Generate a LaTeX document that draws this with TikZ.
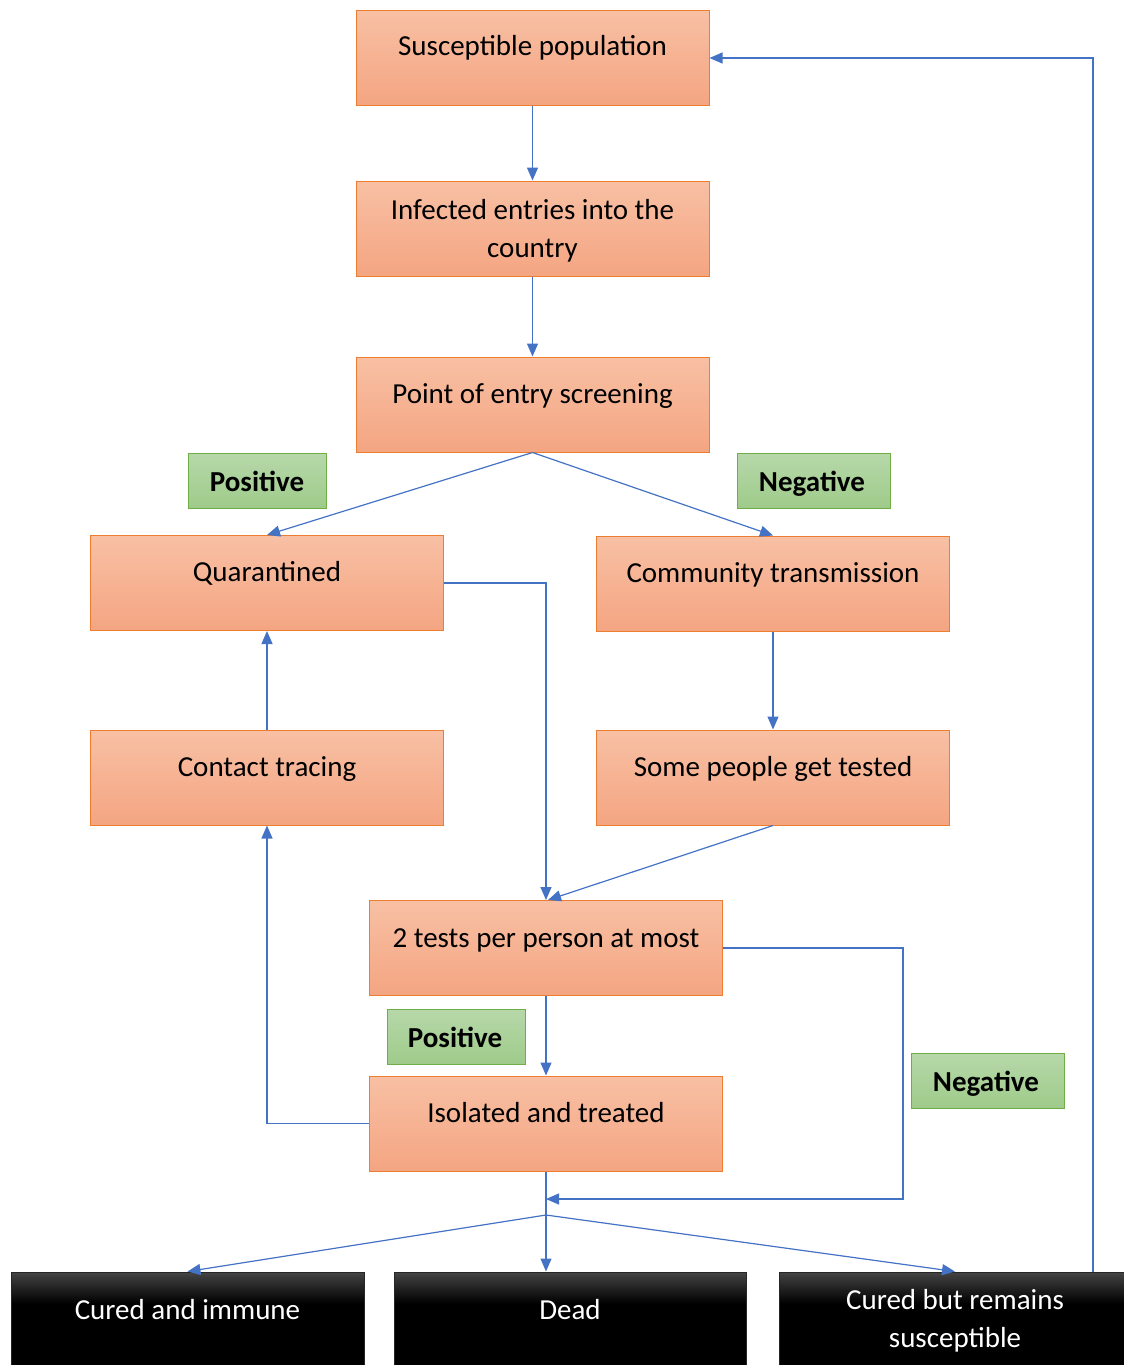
\documentclass[tikz,border=0pt]{standalone}
\usepackage{fontspec}
\setmainfont{Carlito}
\usetikzlibrary{arrows.meta}
\definecolor{otop}{HTML}{F8C0A4}
\definecolor{obot}{HTML}{F4A582}
\definecolor{obord}{HTML}{ED7D31}
\definecolor{gtop}{HTML}{B7D8AA}
\definecolor{gbot}{HTML}{9ECB8A}
\definecolor{gbord}{HTML}{70AD47}
\definecolor{ablue}{HTML}{4472C4}
\definecolor{btop}{HTML}{444444}
\pgfdeclareverticalshading{blackfade}{100bp}{color(0bp)=(black); color(25bp)=(black); color(58bp)=(black); color(75bp)=(btop); color(100bp)=(btop)}
\tikzset{
  obox/.style={draw=obord, line width=1pt, top color=otop, bottom color=obot, minimum width=353pt, minimum height=95pt, inner sep=0pt},
  gbox/.style={draw=gbord, line width=1pt, top color=gtop, bottom color=gbot, minimum height=55pt, inner sep=0pt},
  bbox/.style={draw=black!85, line width=1pt, shading=blackfade, minimum height=93pt, inner sep=0pt},
  txt/.style={anchor=base, font=\fontsize{29}{38}\selectfont, align=center, inner sep=0pt},
  btxt/.style={txt, font=\fontsize{29}{38}\selectfont\bfseries},
  wtxt/.style={txt, text=white},
  conn/.style={draw=ablue, line width=1.2pt, -{Triangle[length=13pt,width=11pt]}},
  plain/.style={draw=ablue, line width=1.2pt},
}
\begin{document}
\begin{tikzpicture}[x=1pt,y=-1pt]
\useasboundingbox (0,0) rectangle (1124,1365);
% boxes
\node[obox] (sus) at (532.5,57.5) {};
\node[obox] (inf) at (532.5,228.5) {};
\node[obox] (poe) at (532.5,404.5) {};
\node[obox] (qua) at (267,583) {};
\node[obox] (com) at (773,583.5) {};
\node[obox] (con) at (267,777.5) {};
\node[obox] (som) at (773,777.5) {};
\node[obox] (tst) at (546,948) {};
\node[obox] (iso) at (546,1123.5) {};
\node[gbox, minimum width=138pt] (pos1) at (257,480.5) {};
\node[gbox, minimum width=153pt] (neg1) at (813.5,480.5) {};
\node[gbox, minimum width=138pt] (pos2) at (456,1036.5) {};
\node[gbox, minimum width=153pt] (neg2) at (987.5,1080.5) {};
\node[bbox, minimum width=353pt] (imm) at (187.5,1318.5) {};
\node[bbox, minimum width=352pt] (dead) at (570,1318.5) {};
\node[bbox, minimum width=346pt] (cbs) at (952,1318.5) {};
% texts
\node[txt] (tsus) at (532.5,55) {Susceptible population};
\node[txt] (tinf) at (532.5,257) {Infected entries into the\\country};
\node[txt] (tpoe) at (532.5,403) {Point of entry screening};
\node[txt] (tqua) at (267,581) {Quarantined};
\node[txt] (tcom) at (773,582) {Community transmission};
\node[txt] (tcon) at (267,776) {Contact tracing};
\node[txt] (tsom) at (773,776) {Some people get tested};
\node[txt] (ttst) at (546,947) {2 tests per person at most};
\node[txt] (tiso) at (546,1122) {Isolated and treated};
\node[btxt] (tpos1) at (257,491) {Positive};
\node[btxt] (tneg1) at (812,491) {Negative};
\node[btxt] (tpos2) at (455,1047) {Positive};
\node[btxt] (tneg2) at (986,1091) {Negative};
\node[wtxt] (timm) at (187.5,1319) {Cured and immune};
\node[wtxt] (tdead) at (570,1319) {Dead};
\node[wtxt] (tcbs) at (955,1347) {Cured but remains\\susceptible};
% connectors
\coordinate (nr) at (903,1199);
\coordinate (split) at (546,1215);
\coordinate (fb) at (1093,58);
\draw[conn] (sus.south) -- (inf.north);
\draw[conn] (inf.south) -- (poe.north);
\draw[conn] (poe.south) -- (qua.north);
\draw[conn] (poe.south) -- (com.north);
\draw[conn] (qua.east) -| (tst.north);
\draw[conn] (com.south) -- (som.north);
\draw[conn] (som.south) -- ([xshift=2pt]tst.north);
\draw[conn] (con.north) -- (qua.south);
\draw[conn] (iso.west) -| (con.south);
\draw[conn] (tst.south) -- (iso.north);
\draw[conn] (tst.east) -| (nr) -- (iso.south |- nr);
\draw[plain] (iso.south) -- (split);
\draw[conn] (split) -- (imm.north);
\draw[conn] (split) -- (split |- dead.north);
\draw[conn] (split) -- ([xshift=3pt]cbs.north);
\draw[conn] (cbs.north -| fb) -- (fb) -- (sus.east |- fb);
\end{tikzpicture}
\end{document}
